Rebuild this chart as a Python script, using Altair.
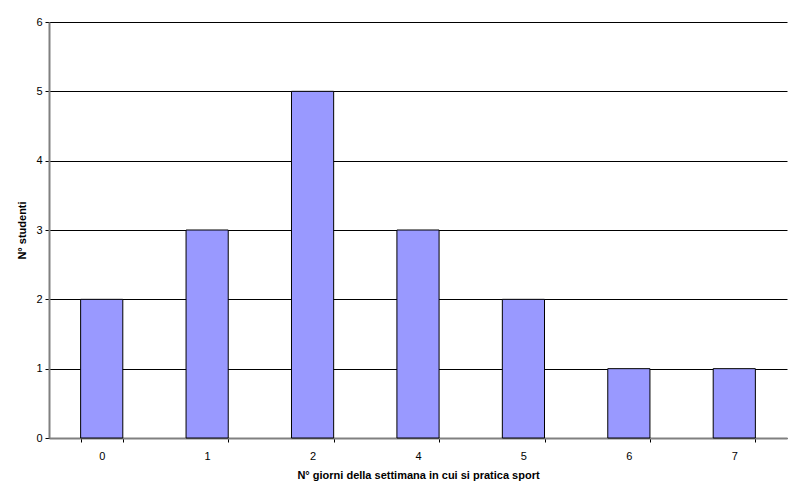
import altair as alt
import pandas as pd

giorni = ["0", "1", "2", "4", "5", "6", "7"]
studenti = [2, 3, 5, 3, 2, 1, 1]

df = pd.DataFrame({"giorni": giorni, "studenti": studenti})

chart = alt.Chart(df).mark_bar(
    color="#9999FF", stroke="#000000", strokeWidth=1
).encode(
    x=alt.X(
        "giorni:N",
        sort=giorni,
        scale=alt.Scale(paddingInner=0.6, paddingOuter=0.3),
        axis=alt.Axis(
            title="N° giorni della settimana in cui si pratica sport",
            labelAngle=0,
            tickBand="extent",
            grid=False,
            domainColor="#808080",
            domainWidth=2,
            tickColor="#000000",
            tickSize=4,
            labelFont="Liberation Sans",
            labelFontSize=11,
            labelColor="#000000",
            labelPadding=8,
            titleFont="Liberation Sans",
            titleFontSize=11,
            titleFontWeight="bold",
            titleColor="#000000",
            titlePadding=8,
        ),
    ),
    y=alt.Y(
        "studenti:Q",
        scale=alt.Scale(domain=[0, 6]),
        axis=alt.Axis(
            title="N° studenti",
            values=[0, 1, 2, 3, 4, 5, 6],
            grid=True,
            gridColor="#000000",
            gridWidth=1,
            domainColor="#808080",
            domainWidth=2,
            tickColor="#000000",
            tickSize=4,
            labelFont="Liberation Sans",
            labelFontSize=11,
            labelColor="#000000",
            labelPadding=3,
            titleFont="Liberation Sans",
            titleFontSize=11,
            titleFontWeight="bold",
            titleColor="#000000",
            titlePadding=8,
        ),
    ),
).properties(
    width=738,
    height=416,
    autosize=alt.AutoSizeParams(type="none"),
    padding={"left": 41, "top": 14, "right": 5, "bottom": 50},
).configure_view(stroke=None)

chart.save("out.html", embed_options={"renderer": "svg", "actions": False})
